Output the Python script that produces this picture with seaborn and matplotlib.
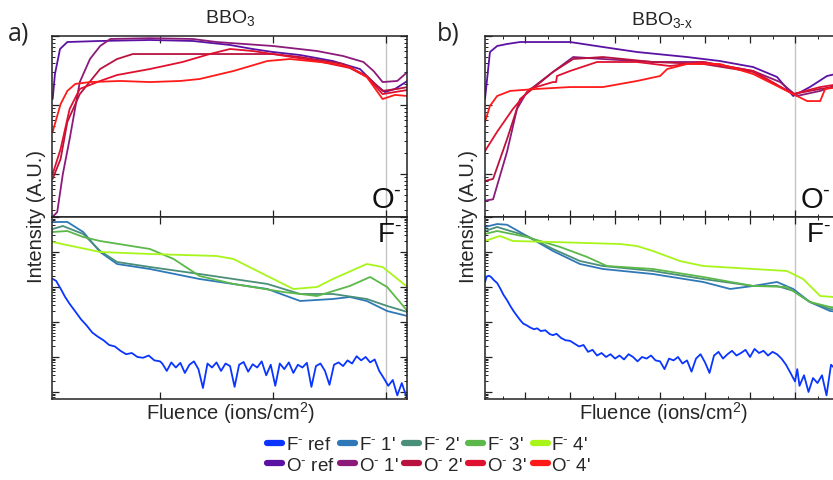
import numpy as np
import pandas as pd
import matplotlib
matplotlib.use("Agg")
import matplotlib.pyplot as plt
import seaborn as sns
from matplotlib.lines import Line2D
from matplotlib.ticker import FixedLocator, MultipleLocator, LogLocator, NullFormatter

# ---------------- data ----------------
series_F = ["F$^{\\text{-}}$ ref", "F$^{\\text{-}}$ 1'", "F$^{\\text{-}}$ 2'", "F$^{\\text{-}}$ 3'", "F$^{\\text{-}}$ 4'"]
series_O = ["O$^{\\text{-}}$ ref", "O$^{\\text{-}}$ 1'", "O$^{\\text{-}}$ 2'", "O$^{\\text{-}}$ 3'", "O$^{\\text{-}}$ 4'"]
colors_F = ["#0a35ff", "#2f78b8", "#4a8f7a", "#5cb84a", "#a8f51a"]
colors_O = ["#5b12a3", "#8c1a7a", "#b8133f", "#e01030", "#ff1a1a"]

# ---- panel a (BBO3) : O- ----
a_Oref_x = [0.05, 0.07, 0.115, 0.18, 0.47, 0.91, 1.29, 1.62, 1.82, 2.0, 2.24, 2.53, 2.77, 2.90, 2.99, 3.08, 3.19]
a_Oref_y = [1.22, 2.81, 6.48, 8.18, 8.47, 8.75, 8.47, 7.41, 6.48, 5.86, 5.30, 4.34, 3.32, 2.02, 1.54, 1.71, 2.23]
a_O1_x = [0.05, 0.09, 0.14, 0.20, 0.29, 0.38, 0.47, 0.56, 0.91, 1.29, 1.50, 2.0, 2.39, 2.62, 2.80, 2.89, 2.97, 3.10, 3.19]
a_O1_y = [0.024, 0.028, 0.10, 0.32, 2.15, 4.64, 7.16, 9.05, 9.3, 9.05, 8.18, 7.16, 6.06, 5.13, 4.20, 3.11, 2.15, 2.23, 3.01]
a_O2_x = [0.05, 0.12, 0.18, 0.29, 0.47, 0.62, 0.76, 1.06, 1.53, 2.0, 2.24, 2.62, 2.83, 2.97, 3.10, 3.19]
a_O2_y = [0.085, 0.165, 0.57, 1.44, 3.32, 4.64, 5.48, 5.48, 5.48, 5.48, 4.96, 3.93, 2.63, 1.60, 1.71, 1.82]
a_O3_x = [0.05, 0.12, 0.20, 0.29, 0.47, 0.62, 0.91, 1.20, 1.44, 1.62, 1.82, 2.0, 2.39, 2.68, 2.83, 2.97, 3.19]
a_O3_y = [0.10, 0.23, 0.875, 1.71, 2.23, 2.72, 3.32, 4.20, 5.48, 6.48, 6.06, 5.48, 4.34, 3.44, 2.55, 1.44, 1.65]
a_O4_x = [0.05, 0.12, 0.18, 0.25, 0.38, 0.65, 0.91, 1.18, 1.35, 1.65, 1.95, 2.15, 2.50, 2.68, 2.83, 2.97, 3.08, 3.19]
a_O4_y = [0.41, 1.03, 1.60, 2.02, 2.15, 2.23, 2.15, 2.23, 2.38, 3.11, 4.34, 4.64, 4.06, 3.55, 2.55, 1.22, 1.40, 1.35]

# ---- panel a (BBO3) : F- ----
a_Fref_x = [0.05, 0.08, 0.12, 0.16, 0.2, 0.25, 0.3, 0.35, 0.4, 0.45, 0.5, 0.55, 0.6, 0.65, 0.7, 0.75, 0.8, 0.85,
            0.9, 0.95, 1.0, 1.02, 1.06, 1.10, 1.14, 1.18, 1.22, 1.26, 1.30, 1.34, 1.38, 1.42, 1.46, 1.50, 1.54,
            1.58, 1.62, 1.66, 1.70, 1.74, 1.78, 1.82, 1.86, 1.90, 1.94, 1.98, 2.02, 2.06, 2.10, 2.14, 2.18, 2.22,
            2.26, 2.30, 2.34, 2.38, 2.42, 2.46, 2.50, 2.54, 2.58, 2.62, 2.66, 2.70, 2.74, 2.78, 2.82, 2.86, 2.90,
            2.94, 2.98, 3.02, 3.06, 3.10, 3.14, 3.18]
a_Fref_y = [1700, 1500, 900, 520, 330, 200, 120, 80, 50, 38, 30, 22, 20, 15, 12, 13, 10, 9.5,
            11, 8, 7.5, 6.5, 4.0, 7.0, 5.0, 6.8, 3.5, 6.0, 7.5, 4.5, 1.3, 6.5, 5.0, 7.0, 4.0,
            6.5, 5.5, 1.4, 6.0, 7.2, 3.8, 6.2, 5.0, 7.5, 3.0, 6.0, 1.5, 6.5, 4.5, 7.0, 3.5, 6.0,
            5.0, 6.8, 1.4, 5.5, 6.5, 4.0, 1.6, 6.0, 7.0, 5.5, 8.0, 6.5, 10.5, 8.0, 10.0, 7.0, 8.5,
            4.0, 2.5, 1.5, 2.2, 0.8, 1.8, 0.75]
a_F1_x = [0.05, 0.18, 0.32, 0.47, 0.62, 0.91, 1.35, 1.95, 2.24, 2.53, 2.68, 2.83, 3.01, 3.19]
a_F1_y = [72000, 72000, 37300, 10000, 4540, 3270, 1690, 877, 398, 454, 518, 398, 206, 148]
a_F2_x = [0.05, 0.14, 0.32, 0.47, 0.62, 0.91, 1.35, 1.95, 2.24, 2.53, 2.83, 3.01, 3.19]
a_F2_y = [45400, 55300, 32700, 10700, 5180, 3730, 2350, 1220, 631, 631, 454, 287, 193]
a_F3_x = [0.05, 0.18, 0.32, 0.47, 0.91, 1.12, 1.35, 1.65, 2.09, 2.39, 2.68, 2.86, 3.01, 3.19]
a_F3_y = [37300, 39800, 26800, 20600, 12200, 6310, 2060, 1220, 720, 553, 1070, 1930, 1000, 206]
a_F4_x = [0.05, 0.47, 0.91, 1.50, 1.65, 1.95, 2.18, 2.39, 2.53, 2.83, 2.97, 3.19]
a_F4_y = [19300, 10000, 8770, 7690, 6310, 2060, 877, 1000, 1690, 4540, 3730, 1000]

# ---- panel b (BBO3-x) : O- ----
b_Oref_x = [-0.89, -0.82, -0.78, -0.62, -0.40, -0.11, 1.0, 1.73, 2.49, 3.6, 4.33, 5.07, 5.6, 5.96, 6.33, 6.71, 7.0]
b_Oref_y = [1.22, 3.32, 5.86, 7.16, 7.66, 8.18, 8.18, 6.93, 5.86, 4.96, 4.34, 3.55, 2.55, 1.35, 1.82, 2.63, 2.91]
b_O1_x = [-0.89, -0.71, -0.40, -0.18, 0.04, 0.62, 1.07, 1.73, 2.84, 3.96, 5.07, 5.67, 6.04, 6.56, 7.0]
b_O1_y = [0.041, 0.043, 0.21, 0.875, 1.54, 3.01, 4.96, 4.64, 4.20, 4.20, 3.11, 2.15, 1.35, 1.60, 2.02]
b_O2_x = [-0.89, -0.71, -0.40, -0.11, 0.62, 1.07, 1.73, 2.84, 3.96, 5.07, 5.96, 6.56, 7.0]
b_O2_y = [0.079, 0.085, 0.32, 1.22, 3.01, 4.64, 4.96, 4.20, 3.93, 3.01, 1.44, 1.71, 1.89]
b_O3_x = [-0.89, -0.62, -0.27, 0.11, 0.62, 0.69, 0.71, 1.0, 1.6, 2.49, 3.22, 3.96, 5.07, 5.96, 6.56, 7.0]
b_O3_y = [0.215, 0.41, 0.875, 1.71, 2.15, 2.15, 2.63, 3.11, 4.20, 4.20, 3.67, 4.20, 3.11, 1.44, 1.82, 2.02]
b_O4_x = [-0.89, -0.78, -0.62, -0.33, 0.27, 1.0, 1.73, 2.49, 3.0, 3.16, 3.6, 4.33, 5.07, 5.82, 6.27, 6.56, 6.67, 7.0]
b_O4_y = [0.57, 0.97, 1.35, 1.60, 1.71, 1.82, 1.82, 2.23, 2.63, 3.32, 3.93, 3.93, 2.81, 1.60, 1.14, 1.14, 1.71, 1.82]

# ---- panel b (BBO3-x) : F- ----
b_Fref_x = [-0.89, -0.85, -0.80, -0.75, -0.70, -0.62, -0.55, -0.48, -0.40, -0.33, -0.25, -0.18, -0.10, -0.04,
            0.04, 0.11, 0.2, 0.27, 0.35, 0.45, 0.55, 0.62, 0.7, 0.8, 0.9, 1.0, 1.1, 1.2, 1.3, 1.4, 1.5, 1.6,
            1.7, 1.8, 1.9, 2.0, 2.1, 2.2, 2.3, 2.4, 2.5, 2.6, 2.7, 2.8, 2.9, 3.0, 3.1, 3.2, 3.3, 3.4, 3.5,
            3.6, 3.7, 3.8, 3.9, 4.0, 4.1, 4.2, 4.3, 4.4, 4.5, 4.6, 4.7, 4.8, 4.9, 5.0, 5.1, 5.2, 5.3, 5.4,
            5.5, 5.6, 5.7, 5.8, 5.9, 6.0, 6.05, 6.1, 6.2, 6.3, 6.4, 6.5, 6.6, 6.7, 6.75, 6.8, 6.9, 7.0]
b_Fref_y = [1400, 2000, 2100, 1900, 1600, 1300, 900, 600, 420, 290, 200, 150, 110, 90,
            80, 70, 62, 66, 55, 58, 45, 42, 46, 35, 30, 29, 24, 20, 22, 14, 16, 11,
            13, 10, 12, 9, 11, 8.5, 12, 10, 7.5, 10, 9, 11, 8, 7.5, 4.5, 9, 8, 10, 6.5,
            8, 3.8, 9, 12, 7, 3.5, 11, 14, 9, 12, 15, 11, 13, 16, 10, 17, 13, 15, 11,
            14, 12, 9, 6, 3.5, 2.0, 4.5, 1.5, 3.0, 1.0, 2.5, 1.8, 3.0, 0.8, 2.2, 6.0, 4.5, 5.5]
b_F1_x = [-0.89, -0.62, -0.40, 0.04, 0.62, 1.22, 1.73, 2.84, 3.96, 4.56, 5.07, 5.6, 5.96, 6.33, 6.78, 7.0]
b_F1_y = [51800, 63000, 60000, 28700, 10700, 4540, 3270, 2350, 1390, 877, 1070, 1390, 877, 373, 206, 193]
b_F2_x = [-0.89, -0.62, 0.04, 0.62, 1.22, 1.73, 2.84, 3.96, 5.07, 5.6, 5.96, 6.33, 6.78, 7.0]
b_F2_y = [39800, 51800, 28700, 12200, 5530, 3980, 2870, 1690, 1070, 1070, 780, 373, 235, 220]
b_F3_x = [-0.89, -0.62, 0.04, 0.78, 1.38, 1.82, 2.84, 3.96, 5.07, 5.82, 6.33, 6.78, 7.0]
b_F3_y = [32700, 39800, 26800, 13900, 7200, 3980, 3270, 1930, 1070, 1000, 373, 268, 250]
b_F4_x = [-0.89, -0.56, -0.27, 0.62, 2.11, 2.49, 2.84, 3.44, 3.96, 5.07, 5.82, 6.18, 6.56, 6.84, 7.0]
b_F4_y = [20600, 28700, 20600, 19300, 16900, 14800, 10700, 5530, 3980, 3270, 2870, 1690, 553, 518, 553]


def frame(names, xs, ys):
    parts = []
    for n, x, y in zip(names, xs, ys):
        parts.append(pd.DataFrame({"x": x, "y": y, "s": n}))
    return pd.concat(parts, ignore_index=True)


dfa_O = frame(series_O, [a_Oref_x, a_O1_x, a_O2_x, a_O3_x, a_O4_x], [a_Oref_y, a_O1_y, a_O2_y, a_O3_y, a_O4_y])
dfa_F = frame(series_F, [a_Fref_x, a_F1_x, a_F2_x, a_F3_x, a_F4_x], [a_Fref_y, a_F1_y, a_F2_y, a_F3_y, a_F4_y])
dfb_O = frame(series_O, [b_Oref_x, b_O1_x, b_O2_x, b_O3_x, b_O4_x], [b_Oref_y, b_O1_y, b_O2_y, b_O3_y, b_O4_y])
dfb_F = frame(series_F, [b_Fref_x, b_F1_x, b_F2_x, b_F3_x, b_F4_x], [b_Fref_y, b_F1_y, b_F2_y, b_F3_y, b_F4_y])

pal = dict(zip(series_F + series_O, colors_F + colors_O))

# ---------------- style ----------------
sns.set_theme(style="ticks")
plt.rcParams["font.family"] = ["Liberation Sans", "DejaVu Sans"]
plt.rcParams["mathtext.fontset"] = "custom"
plt.rcParams["mathtext.rm"] = "Liberation Sans"
plt.rcParams["mathtext.it"] = "Liberation Sans:italic"
plt.rcParams["mathtext.bf"] = "Liberation Sans:bold"

fig = plt.figure(figsize=(8.33, 4.81), dpi=100)
W, H = 833.0, 481.0


def ax_at(l, t, r, b):
    return fig.add_axes([l / W, 1 - b / H, (r - l) / W, (b - t) / H])


axO_a = ax_at(52, 37, 407, 218)
axF_a = ax_at(52, 218, 407, 400)
axO_b = ax_at(485, 37, 840, 218)
axF_b = ax_at(485, 218, 840, 400)

O_lim = (0.0238, 10)
F_lim = (0.63, 1e5)


def style_ax(ax, xlim, ylim, xmaj, xminor, vline):
    ax.set_yscale("log")
    ax.set_xlim(*xlim)
    ax.set_ylim(*ylim)
    ax.axvline(vline, color="#c4c4c4", lw=1.0, zorder=0)
    ax.xaxis.set_major_locator(FixedLocator(xmaj))
    if xminor:
        ax.xaxis.set_minor_locator(MultipleLocator(0.5))
    else:
        ax.xaxis.set_minor_locator(FixedLocator([]))
    ax.yaxis.set_major_locator(LogLocator(base=10, numticks=20))
    ax.yaxis.set_minor_locator(LogLocator(base=10, subs=np.arange(2, 10), numticks=50))
    ax.yaxis.set_minor_formatter(NullFormatter())
    ax.tick_params(which="both", direction="in", top=True, right=True, labelbottom=False,
                   labelleft=False, color="#222222")
    ax.tick_params(which="major", length=5, width=0.9)
    ax.tick_params(which="minor", length=2.5, width=0.7)
    for s in ax.spines.values():
        s.set_color("#222222")
        s.set_linewidth(1.1)
    ax.set_xlabel("")
    ax.set_ylabel("")


for ax, df in [(axO_a, dfa_O), (axF_a, dfa_F), (axO_b, dfb_O), (axF_b, dfb_F)]:
    sns.lineplot(data=df, x="x", y="y", hue="s", palette=pal, estimator=None, sort=False,
                 lw=1.3, ax=ax, legend=False)

style_ax(axO_a, (0.044, 3.186), O_lim, [1, 2, 3], False, 3)
style_ax(axF_a, (0.044, 3.186), F_lim, [1, 2, 3], False, 3)
style_ax(axO_b, (-0.89, 7.0), O_lim, list(range(0, 8)), True, 6)
style_ax(axF_b, (-0.89, 7.0), F_lim, list(range(0, 8)), True, 6)

# corner labels
axO_a.text(0.985, 0.02, "O$^{\\text{-}}$", transform=axO_a.transAxes, ha="right", va="bottom",
           fontsize=21, color="#111111")
axO_b.text(0.975, 0.02, "O$^{\\text{-}}$", transform=axO_b.transAxes, ha="right", va="bottom",
           fontsize=21, color="#111111")
axF_a.text(0.985, 0.98, "F$^{\\text{-}}$", transform=axF_a.transAxes, ha="right", va="top",
           fontsize=20, color="#111111")
axF_b.text(0.975, 0.98, "F$^{\\text{-}}$", transform=axF_b.transAxes, ha="right", va="top",
           fontsize=20, color="#111111")

# titles / labels
fig.text(230 / W, 1 - 18 / H, "BBO$_3$", ha="center", va="center", fontsize=14)
fig.text(662 / W, 1 - 20 / H, "BBO$_{\\text{3-x}}$", ha="center", va="center", fontsize=14)
fig.text(8 / W, 1 - 34 / H, "a)", ha="left", va="center", fontsize=18, family=["Open Sans", "DejaVu Sans"])
fig.text(437 / W, 1 - 34 / H, "b)", ha="left", va="center", fontsize=18, family=["Open Sans", "DejaVu Sans"])
fig.text(36 / W, 1 - 217 / H, "Intensity (A.U.)", rotation=90, ha="center", va="center", fontsize=14.5)
fig.text(468 / W, 1 - 217 / H, "Intensity (A.U.)", rotation=90, ha="center", va="center", fontsize=14.5)
fig.text(231 / W, 1 - 413 / H, "Fluence (ions/cm$^2$)", ha="center", va="center", fontsize=14.5)
fig.text(664 / W, 1 - 413 / H, "Fluence (ions/cm$^2$)", ha="center", va="center", fontsize=14.5)

# legend: row 1 = F series, row 2 = O series (column-major fill)
handles, labels = [], []
for fn, fc, on, oc in zip(series_F, colors_F, series_O, colors_O):
    handles.append(Line2D([], [], color=fc, lw=4.5, solid_capstyle="round"))
    labels.append(fn)
    handles.append(Line2D([], [], color=oc, lw=4.5, solid_capstyle="round"))
    labels.append(on)
fig.legend(handles, labels, ncol=5, loc="center", bbox_to_anchor=(429 / W, 1 - 456 / H),
           frameon=False, fontsize=13.5, handlelength=0.8, handletextpad=0.2, columnspacing=0.3,
           labelspacing=0.2, borderpad=0.1)

fig.savefig("out.png", dpi=100)
